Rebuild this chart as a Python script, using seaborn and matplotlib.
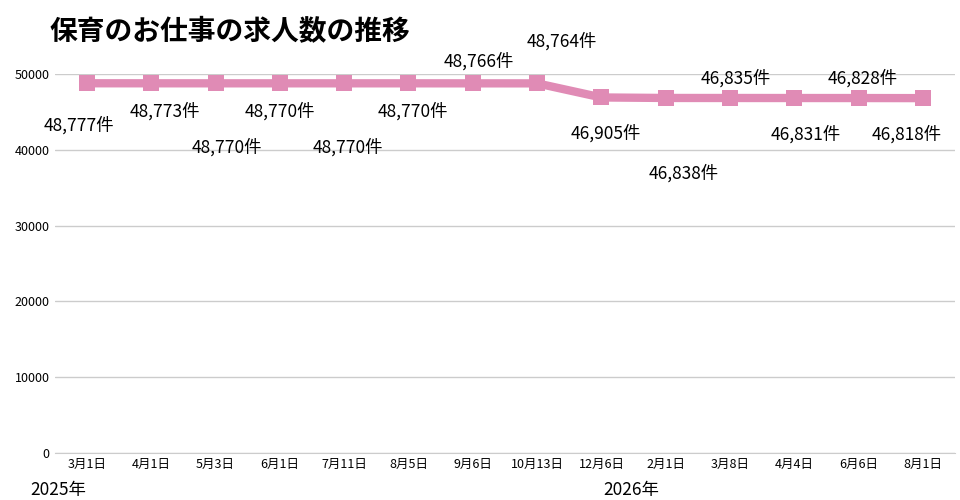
import matplotlib
matplotlib.use("Agg")
import matplotlib.pyplot as plt
import seaborn as sns
import pandas as pd

dates = ["3月1日", "4月1日", "5月3日", "6月1日", "7月11日", "8月5日", "9月6日",
         "10月13日", "12月6日", "2月1日", "3月8日", "4月4日", "6月6日", "8月1日"]
counts = [48777, 48773, 48770, 48770, 48770, 48770, 48766,
          48764, 46905, 46838, 46835, 46831, 46828, 46818]
# label offsets (points) relative to each marker
label_dx = [-6, 10, 8, 0, 3, 3, 4, 18, 3, 13, 4, 8, 3, -12]
label_dy = [-30, -20, -46, -20, -46, -20, 16, 30, -26, -54, 14, -26, 14, -26]

sns.set_style("white")
plt.rcParams["font.family"] = ["Noto Sans CJK JP", "DejaVu Sans"]

df = pd.DataFrame({"date": dates, "count": counts, "x": range(len(dates))})

fig = plt.figure(figsize=(9.6, 5), dpi=100)
ax = fig.add_axes([0.057, 0.094, 0.938, 0.758])
sns.lineplot(data=df, x="x", y="count", ax=ax, color="#e08bb5", linewidth=6,
             marker="s", markersize=12, markeredgewidth=0, clip_on=False)
ax.set_xlim(-0.5, len(dates) - 0.5)
ax.set_ylim(0, 50000)
ax.set_yticks(range(0, 50001, 10000))
ax.set_xticks(range(len(dates)))
ax.set_xticklabels(dates, fontsize=9)
ax.tick_params(axis="y", labelsize=9, length=0, labelcolor="black")
ax.tick_params(axis="x", length=0, labelcolor="black")
ax.yaxis.grid(True, color="#cccccc", linewidth=1)
ax.set_axisbelow(True)
for s in ["top", "right", "left"]:
    ax.spines[s].set_visible(False)
ax.spines["bottom"].set_color("#cccccc")
ax.set_xlabel("")
ax.set_ylabel("")

for i, v in enumerate(counts):
    ax.annotate(f"{v:,}件", (i, v), xytext=(label_dx[i], label_dy[i]),
                textcoords="offset points", ha="center", va="center",
                fontsize=12.5, color="black")

fig.text(0.032, 0.02, "2025年", fontsize=12.5, va="center", color="black")
fig.text(0.628, 0.02, "2026年", fontsize=12.5, va="center", color="black")
fig.text(0.052, 0.935, "保育のお仕事の求人数の推移", fontsize=20, fontweight="bold",
         va="center", color="black")

fig.savefig("out.png", dpi=100)
